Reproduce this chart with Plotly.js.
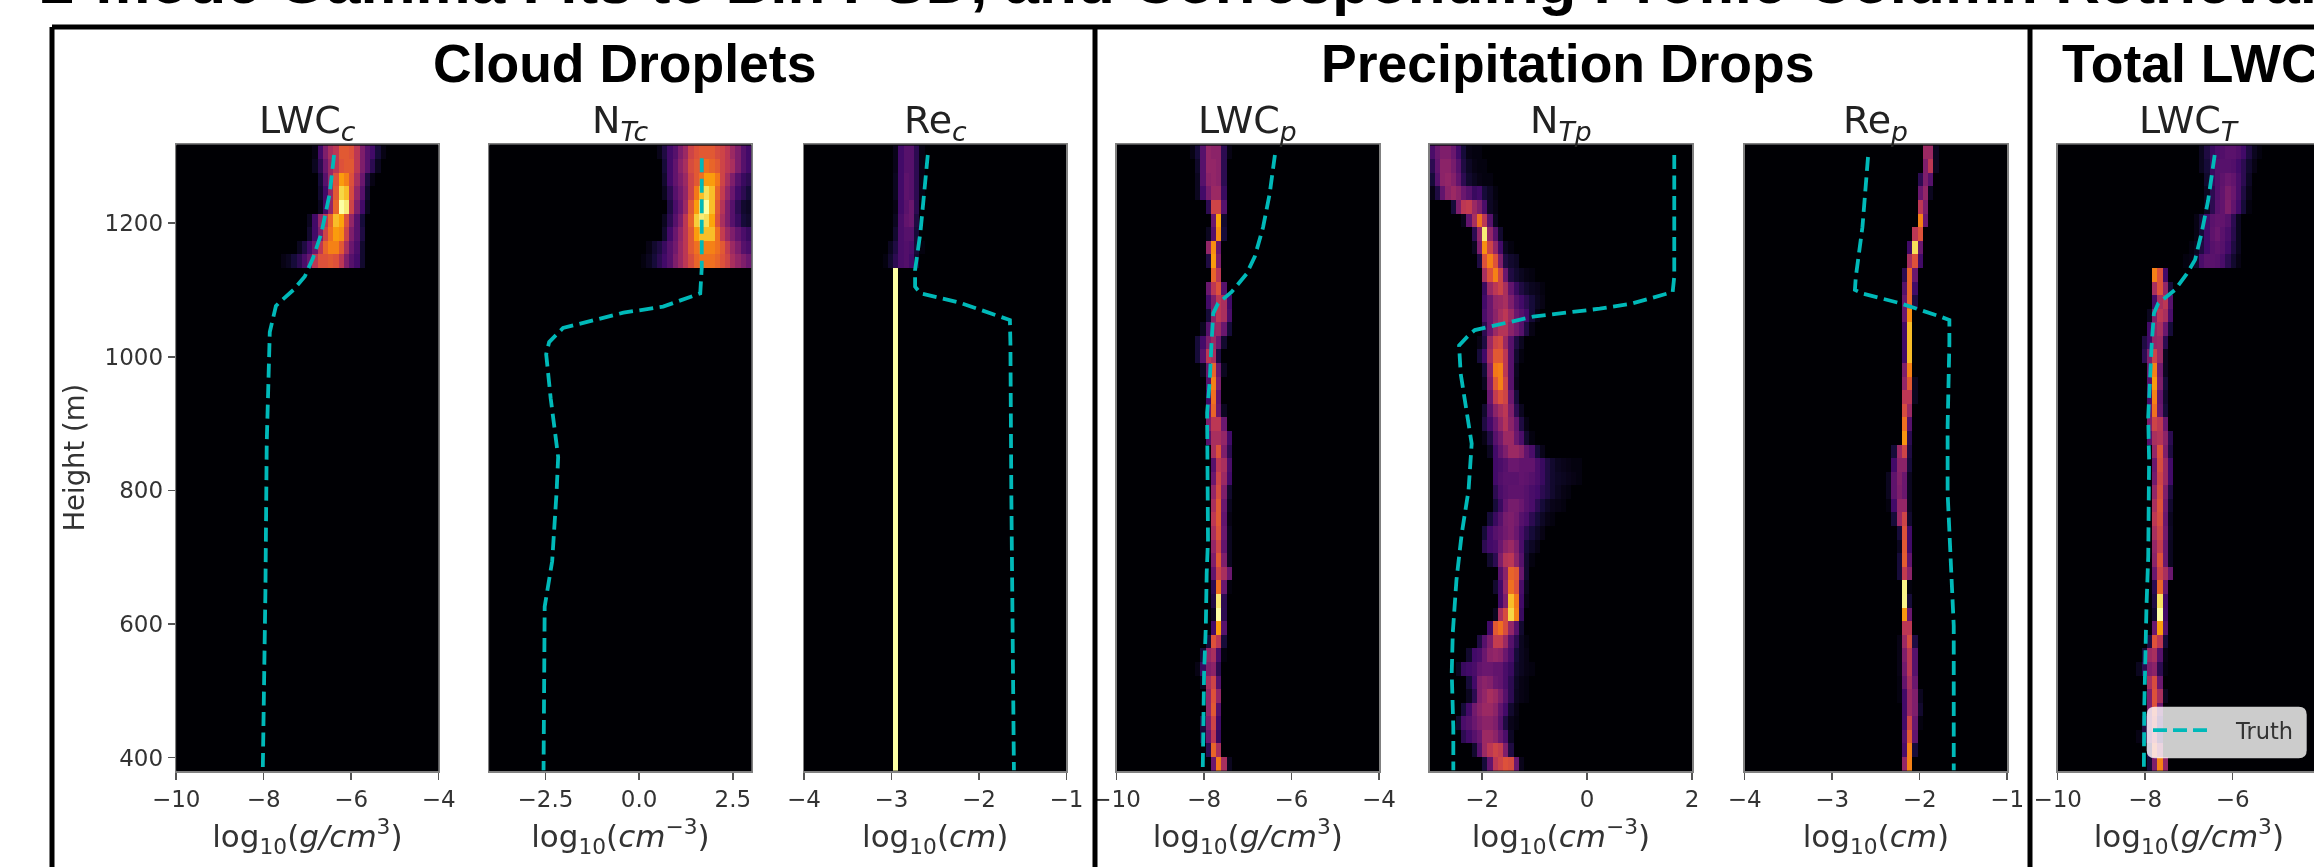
<!DOCTYPE html>
<html><head><meta charset="utf-8">
<script src="https://cdn.plot.ly/plotly-3.0.1.min.js"></script>
<style>html,body{margin:0;padding:0;background:#fff;overflow:hidden;width:2314px;height:867px}#plot{filter:blur(0.6px)}</style>
</head><body><div id="plot"></div>
<script>
// ---------- values ----------
const chartTitle = "2-mode Gamma Fits to Bin PSD, and Corresponding Profile-Column Retrieval";
const groupTitles = ["Cloud Droplets", "Precipitation Drops", "Total LWC"];
const panelTitles = ["LWC<sub><i>c</i></sub>", "N<sub><i>Tc</i></sub>", "Re<sub><i>c</i></sub>", "LWC<sub><i>p</i></sub>", "N<sub><i>Tp</i></sub>", "Re<sub><i>p</i></sub>", "LWC<sub><i>T</i></sub>"];
const xLabelLwc = "log<sub>10</sub>(<i>g/cm</i><sup>3</sup>)";
const xLabelNum = "log<sub>10</sub>(<i>cm</i><sup>−3</sup>)";
const xLabelRe = "log<sub>10</sub>(<i>cm</i>)";
const heightTicks = [400, 600, 800, 1000, 1200];
const lwcTicks = [-10, -8, -6, -4];
const lwcTickText = ["−10", "−8", "−6", "−4"];
const numCTicks = [-2.5, 0, 2.5];
const numCTickText = ["−2.5", "0.0", "2.5"];
const numPTicks = [-2, 0, 2];
const numPTickText = ["−2", "0", "2"];
const reTicks = [-4, -3, -2, -1];
const reTickText = ["−4", "−3", "−2", "−1"];

// Heat-map rows, top to bottom. Each row: [first column, level, level, ...]; levels 0..1 of the colour map.
const heatLwcC = [
 [26,.03,.2,.35,.45,.5,.62,.62,.6,.5,.35,.25,.2,.1,.03],
 [26,.05,.15,.3,.42,.5,.6,.62,.62,.5,.35,.25,.15,.05],
 [27,.1,.25,.42,.6,.78,.72,.6,.45,.3,.12,.03],
 [27,.08,.2,.4,.62,.9,.85,.58,.4,.25,.08],
 [27,.05,.2,.4,.65,1,.95,.55,.35,.2,.05],
 [25,.05,.2,.4,.5,.65,.85,.8,.6,.4,.25,.1],
 [25,.08,.2,.35,.55,.68,.78,.75,.55,.35,.25,.12],
 [23,.05,.12,.2,.3,.5,.65,.72,.72,.62,.45,.3,.22,.08],
 [20,.03,.05,.1,.15,.22,.3,.5,.6,.6,.62,.6,.5,.35,.25,.2,.08]
];
const heatNumC = [
 [32,.04,.12,.2,.25,.35,.42,.55,.6,.62,.62,.62,.58,.55,.5,.42,.35,.25,.2],
 [33,.1,.2,.28,.38,.45,.58,.62,.62,.68,.65,.62,.55,.5,.45,.35,.25,.2],
 [33,.08,.2,.28,.35,.42,.55,.62,.68,.78,.78,.7,.55,.45,.35,.25,.18,.15],
 [33,.05,.15,.25,.32,.4,.55,.7,.85,.92,.85,.65,.52,.4,.3,.2,.15,.1],
 [34,.12,.22,.3,.42,.62,.78,.95,1,.85,.62,.48,.35,.25,.15,.08,.06],
 [33,.05,.15,.25,.35,.5,.65,.88,.95,.92,.8,.6,.45,.35,.25,.18,.1,.08],
 [33,.08,.2,.3,.4,.5,.62,.78,.85,.85,.85,.68,.52,.42,.35,.28,.22,.18],
 [30,.03,.08,.12,.18,.25,.32,.42,.5,.62,.68,.72,.72,.72,.68,.62,.52,.42,.35,.25,.22],
 [29,.02,.05,.1,.15,.2,.25,.35,.42,.5,.58,.65,.68,.68,.68,.65,.6,.55,.45,.4,.35,.3]
];
const heatReC = [
 [17,.04,.2,.25,.25,.15,.03],
 [17,.04,.2,.25,.25,.15,.03],
 [17,.05,.2,.27,.25,.15,.03],
 [17,.05,.2,.27,.25,.15,.03],
 [17,.03,.2,.26,.3,.15],
 [17,.05,.22,.28,.3,.12],
 [17,.08,.22,.25,.25,.1],
 [16,.05,.12,.22,.24,.22,.1,.02],
 [15,.02,.08,.15,.22,.24,.2,.08],
 [17,1],[17,1],[17,1],[17,1],[17,1],[17,1],[17,1],[17,1],[17,1],[17,1],[17,1],[17,1],
 [17,1],[17,1],[17,1],[17,1],[17,1],[17,1],[17,1],[17,1],[17,1],[17,1],[17,1],[17,1],
 [17,1],[17,1],[17,1],[17,1],[17,1],[17,1],[17,1],[17,1],[17,1],[17,1],[17,1],[17,1],[17,1]
];
const heatLwcP = [
 [14,.03,.1,.25,.4,.38,.38,.15,.03],
 [15,.07,.25,.4,.4,.38,.15],
 [15,.05,.25,.38,.4,.38,.15],
 [15,.05,.2,.33,.42,.42,.18],
 [17,.15,.55,.55,.25],
 [18,.3,.8,.08],
 [17,.05,.25,.75,.1],
 [17,.4,.75,.3],
 [17,.12,.78,.35],
 [18,.65,.5],
 [17,.3,.5,.6,.25],
 [17,.2,.35,.5,.45,.2],
 [17,.1,.38,.5,.45,.22],
 [16,.05,.25,.4,.42,.3,.1],
 [15,.1,.2,.35,.42,.3,.08],
 [15,.1,.25,.5,.45,.12],
 [16,.05,.3,.65,.3,.05],
 [17,.25,.72,.35],
 [17,.2,.68,.28],
 [17,.3,.65,.3,.05],
 [17,.35,.5,.5,.3],
 [17,.25,.45,.45,.4,.2],
 [18,.45,.6,.35,.15],
 [18,.25,.5,.45,.22],
 [18,.3,.55,.42,.2],
 [18,.4,.58,.35,.08],
 [18,.45,.62,.3,.05],
 [18,.5,.62,.28,.03],
 [18,.45,.6,.3,.05],
 [18,.4,.55,.28,.05],
 [18,.35,.62,.35,.05],
 [18,.28,.55,.45,.3],
 [18,.15,.68,.3,.02],
 [18,.12,.95,.15],
 [18,.05,1,.15],
 [18,.2,.78,.25],
 [17,.1,.6,.5,.1],
 [16,.1,.4,.45,.22,.02],
 [15,.03,.18,.35,.38,.15],
 [16,.05,.45,.55,.25],
 [17,.4,.6,.4],
 [17,.4,.62,.25],
 [16,.12,.35,.55,.2],
 [16,.1,.3,.5,.18],
 [17,.15,.65,.45],
 [18,.3,.7,.45,.05]
];
const heatNumP = [
 [0,.22,.3,.35,.35,.3,.2,.1,.03,.02,.02],
 [0,.15,.28,.38,.38,.33,.25,.12,.06,.03,.02,.02],
 [0,.1,.25,.38,.4,.36,.28,.15,.08,.05,.03,.02,.02],
 [0,.03,.12,.28,.38,.42,.38,.3,.25,.18,.2,.1,.06,.02],
 [4,.1,.35,.5,.52,.42,.35,.22,.06,.03],
 [6,.04,.28,.45,.68,.5,.25,.05],
 [8,.15,.4,.95,.4,.25,.08],
 [8,.05,.35,.75,.55,.4,.2,.05,.02],
 [9,.12,.6,.72,.6,.35,.12,.08,.06],
 [10,.45,.6,.72,.55,.3,.12,.08,.05,.03,.02],
 [10,.18,.42,.5,.55,.45,.28,.18,.12,.08,.05,.04,.02],
 [10,.2,.3,.4,.42,.45,.35,.25,.2,.15,.1,.05,.03],
 [10,.22,.3,.38,.45,.5,.42,.3,.25,.2,.1,.03],
 [10,.15,.3,.42,.48,.48,.38,.32,.25,.12,.03],
 [9,.03,.12,.42,.55,.58,.42,.25,.12,.05],
 [9,.1,.2,.45,.62,.62,.5,.25,.08,.02],
 [10,.1,.38,.7,.72,.5,.25,.05],
 [10,.05,.35,.62,.72,.55,.25,.04],
 [11,.3,.52,.6,.55,.3,.1],
 [10,.08,.25,.38,.45,.5,.35,.15,.05],
 [10,.12,.2,.3,.4,.48,.38,.28,.12,.03],
 [10,.03,.12,.25,.32,.42,.42,.3,.22,.08,.02],
 [11,.05,.2,.28,.35,.42,.42,.38,.28,.22,.1,.04],
 [12,.2,.22,.25,.3,.3,.28,.28,.28,.22,.18,.12,.08,.05,.04,.03,.02,.02],
 [12,.2,.24,.26,.26,.26,.28,.27,.25,.22,.18,.12,.08,.06,.05,.04,.03,.02],
 [12,.15,.22,.25,.27,.27,.27,.25,.22,.2,.15,.12,.08,.05,.03,.02],
 [12,.1,.18,.28,.33,.33,.3,.25,.22,.15,.1,.06,.04,.03,.02],
 [11,.1,.18,.25,.33,.35,.32,.25,.22,.15,.1,.06,.03,.02],
 [10,.1,.2,.25,.28,.32,.35,.3,.22,.15,.1,.06,.03],
 [10,.15,.2,.22,.3,.38,.42,.35,.22,.1,.06,.03],
 [11,.08,.15,.35,.48,.5,.38,.25,.08,.02],
 [13,.25,.38,.65,.62,.3,.08],
 [12,.08,.2,.4,.68,.6,.22,.05],
 [13,.2,.35,.85,.7,.2,.03],
 [12,.05,.45,.58,.9,.72,.18],
 [11,.2,.62,.68,.58,.4,.25,.08],
 [9,.12,.25,.35,.52,.52,.42,.25,.15,.05,.02],
 [7,.08,.2,.22,.3,.38,.4,.38,.3,.22,.1,.05,.03],
 [5,.05,.18,.2,.22,.28,.3,.3,.28,.28,.22,.18,.08,.05,.03,.02],
 [7,.1,.2,.35,.38,.36,.3,.28,.22,.15,.06,.03,.02],
 [7,.05,.15,.35,.4,.45,.42,.35,.25,.15,.05,.03,.02],
 [6,.1,.2,.32,.38,.42,.42,.38,.28,.2,.08,.03],
 [5,.08,.22,.25,.3,.35,.38,.38,.35,.25,.12,.04,.02],
 [6,.15,.2,.25,.3,.42,.42,.38,.3,.22,.06],
 [8,.08,.25,.42,.5,.55,.52,.35,.12],
 [10,.1,.28,.5,.55,.6,.58,.3,.04]
];
const heatReP = [
 [34,.42,.42,.05],
 [34,.35,.5,.05],
 [33,.15,.35,.25],
 [33,.3,.4,.05],
 [33,.5,.35],
 [33,.72,.3],
 [32,.5,.6],
 [31,.2,.92,.3],
 [31,.45,.6,.2],
 [30,.15,.65,.3],
 [30,.25,.65,.2],
 [30,.3,.65,.12],
 [30,.3,.75],
 [30,.2,.85],
 [30,.2,.85],
 [30,.2,.85],
 [30,.35,.72],
 [30,.4,.62,.05],
 [30,.5,.5,.05],
 [30,.58,.42],
 [30,.68,.25],
 [30,.76,.15],
 [28,.1,.42,.55,.12],
 [28,.2,.38,.38,.1],
 [27,.05,.27,.36,.3,.05],
 [27,.05,.27,.35,.3,.05],
 [27,.02,.2,.4,.4,.05],
 [28,.1,.42,.55,.08],
 [29,.1,.6,.2],
 [29,.05,.62,.2],
 [29,.1,.63,.28],
 [29,.1,.52,.38],
 [30,.97,.02],
 [30,.97,.1],
 [30,.77,.3],
 [30,.5,.5],
 [29,.03,.42,.58,.12],
 [29,.03,.35,.5,.25],
 [29,.03,.32,.5,.25],
 [29,.02,.28,.45,.3],
 [29,.02,.2,.42,.35,.05],
 [30,.2,.42,.35,.08],
 [30,.2,.55,.3,.02],
 [30,.25,.62,.28],
 [30,.22,.72,.1],
 [30,.4,.72]
];
const heatLwcT = [
 [27,.05,.12,.18,.22,.24,.26,.26,.24,.2,.12,.05,.02],
 [27,.05,.1,.18,.24,.25,.25,.24,.2,.15,.08,.03],
 [28,.08,.18,.24,.27,.3,.28,.22,.15,.06],
 [28,.05,.15,.24,.28,.34,.3,.22,.12,.04],
 [28,.05,.15,.25,.28,.35,.28,.2,.1,.02],
 [26,.03,.1,.2,.26,.28,.28,.25,.15,.05],
 [26,.03,.1,.2,.27,.3,.26,.22,.14,.05],
 [25,.02,.05,.12,.2,.25,.27,.25,.2,.12,.05],
 [24,.02,.03,.08,.22,.26,.26,.25,.22,.15,.08,.03],
 [18,.72,.6,.2],
 [18,.45,.6,.4,.1],
 [18,.2,.45,.5,.25],
 [17,.05,.35,.5,.45,.22],
 [17,.2,.4,.45,.3,.1],
 [16,.12,.2,.4,.42,.15],
 [16,.15,.35,.55,.42,.05],
 [17,.3,.72,.32,.05],
 [17,.25,.78,.35,.1],
 [17,.22,.72,.28,.08],
 [17,.3,.68,.3,.1],
 [17,.35,.55,.5,.3],
 [17,.25,.45,.48,.38,.15],
 [18,.4,.6,.35,.12],
 [18,.3,.58,.42,.2],
 [18,.32,.55,.42,.2],
 [18,.4,.58,.35,.12],
 [18,.45,.6,.32,.08],
 [18,.5,.58,.3,.05],
 [18,.45,.55,.32,.06],
 [18,.4,.52,.3,.05],
 [18,.38,.6,.3,.05],
 [18,.3,.55,.45,.3],
 [18,.15,.65,.3],
 [18,.12,.93,.2],
 [18,.08,1,.2],
 [18,.3,.78,.25],
 [17,.12,.6,.5,.1],
 [16,.1,.42,.45,.25,.03],
 [15,.05,.15,.35,.38,.15,.02],
 [17,.45,.58,.3],
 [17,.35,.6,.45,.05],
 [17,.35,.6,.3],
 [16,.12,.35,.55,.2],
 [15,.03,.12,.3,.5,.18],
 [17,.15,.62,.42],
 [17,.1,.35,.72,.4]
];

// "Truth" profiles: [log10 value] against height (m).
const truthLwcCx = [-6.39,-6.49,-6.68,-6.87,-7.06,-7.32,-7.63,-7.72,-7.86,-7.93,-7.96,-8.0,-8.02];
const truthLwcCh = [1302,1244,1185,1148,1120,1100,1082,1076,1037,871,650,400,381];
const truthNumCx = [1.67,1.67,1.63,0.64,-0.42,-2.03,-2.4,-2.48,-2.36,-2.16,-2.2,-2.32,-2.52,-2.55];
const truthNumCh = [1297,1133,1095,1075,1066,1043,1022,1004,938,850,800,694,626,381];
const truthReCx = [-2.585,-2.67,-2.73,-2.73,-2.67,-2.22,-1.646,-1.64,-1.63,-1.6];
const truthReCh = [1302,1185,1130,1105,1095,1081,1055,1020,800,381];
const truthLwcPx = [-6.38,-6.5,-6.65,-6.84,-7.03,-7.37,-7.68,-7.79,-7.83,-7.87,-7.93,-7.93,-7.91,-7.94,-7.96,-8.0,-8.02,-8.03];
const truthLwcPh = [1302,1244,1194,1150,1124,1097,1080,1065,1020,965,916,860,726,676,596,526,445,381];
const truthNumPx = [1.66,1.66,1.63,0.87,0.24,-1.03,-2.14,-2.26,-2.44,-2.41,-2.2,-2.26,-2.39,-2.49,-2.56,-2.58,-2.55,-2.55];
const truthNumPh = [1302,1120,1097,1080,1072,1060,1040,1032,1017,975,870,800,735,666,587,527,445,381];
const truthRePx = [-2.59,-2.654,-2.73,-2.74,-2.66,-2.22,-1.76,-1.66,-1.66,-1.68,-1.68,-1.64,-1.61,-1.61];
const truthRePh = [1299,1194,1119,1100,1095,1080,1060,1055,1020,896,796,696,597,381];
const truthLwcTx = [-6.41,-6.56,-6.71,-6.86,-7.05,-7.32,-7.7,-7.8,-7.85,-7.89,-7.93,-7.91,-7.93,-7.97,-8.0,-8.02,-8.03];
const truthLwcTh = [1302,1234,1185,1145,1124,1100,1080,1065,1020,965,910,845,701,626,550,476,381];

// ---------- styling and layout ----------
const W = 2330, H = 867;
const panelLeft = [176.2, 489.2, 804, 1116.6, 1429.7, 1744.7, 2057.7];
const panelWidth = 262.4, panelTop = 144.3, panelBottom = 771;
const heightRange = [380, 1318];
const rowTop = 1316, rowStep = 20.35, binCount = 50;
const px = v => v / W, py = v => 1 - v / H;
const inferno = [[0,"#000004"],[.1,"#160b39"],[.2,"#420a68"],[.3,"#6a176e"],[.4,"#932667"],[.5,"#bc3754"],[.6,"#dd513a"],[.7,"#f37819"],[.8,"#fca50a"],[.9,"#f6d746"],[1,"#fcffa4"]];
const teal = "#00b9b9";

const panels = [
 {heat: heatLwcC, tx: truthLwcCx, th: truthLwcCh, range: [-10,-4], tv: lwcTicks, tt: lwcTickText, label: xLabelLwc},
 {heat: heatNumC, tx: truthNumCx, th: truthNumCh, range: [-4,3], tv: numCTicks, tt: numCTickText, label: xLabelNum},
 {heat: heatReC, tx: truthReCx, th: truthReCh, range: [-4,-1], tv: reTicks, tt: reTickText, label: xLabelRe},
 {heat: heatLwcP, tx: truthLwcPx, th: truthLwcPh, range: [-10,-4], tv: lwcTicks, tt: lwcTickText, label: xLabelLwc},
 {heat: heatNumP, tx: truthNumPx, th: truthNumPh, range: [-3,2], tv: numPTicks, tt: numPTickText, label: xLabelNum},
 {heat: heatReP, tx: truthRePx, th: truthRePh, range: [-4,-1], tv: reTicks, tt: reTickText, label: xLabelRe},
 {heat: heatLwcT, tx: truthLwcTx, th: truthLwcTh, range: [-10,-4], tv: lwcTicks, tt: lwcTickText, label: xLabelLwc}
];

const rowCount = 46;
const rowCenters = [];
for (let r = rowCount - 1; r >= 0; r--) rowCenters.push(rowTop - rowStep * (r + .5));

const traces = [], layout = {
  width: W, height: H, margin: {l:0, r:0, t:0, b:0}, paper_bgcolor: "#fff", plot_bgcolor: "#000004",
  showlegend: true, font: {family: "DejaVu Sans", color: "#333"},
  legend: {x: px(2148), y: py(709), xanchor: "left", yanchor: "top", bgcolor: "rgba(0,0,0,0)", borderwidth: 0,
           font: {family: "DejaVu Sans", size: 22.5, color: "#333"}, itemwidth: 78, tracegroupgap: 0},
  annotations: [], shapes: []
};

panels.forEach((p, i) => {
  const s = i === 0 ? "" : String(i + 1);
  const dx = (p.range[1] - p.range[0]) / binCount;
  const xc = [];
  for (let c = 0; c < binCount; c++) xc.push(p.range[0] + dx * (c + .5));
  const z = rowCenters.map(() => new Array(binCount).fill(0));
  p.heat.forEach((row, r) => {
    const zi = rowCount - 1 - r;
    row.slice(1).forEach((v, k) => { z[zi][row[0] + k] = v; });
  });
  traces.push({type: "heatmap", x: xc, y: rowCenters, z, zmin: 0, zmax: 1, colorscale: inferno, showscale: false,
               zsmooth: false, xaxis: "x" + s, yaxis: "y" + s, hoverinfo: "skip"});
  traces.push({type: "scatter", mode: "lines", x: p.tx, y: p.th, name: "Truth", showlegend: false,
               line: {color: teal, width: 3.8, dash: "14px,6.5px"}, xaxis: "x" + s, yaxis: "y" + s});
  layout["xaxis" + s] = {
    domain: [px(panelLeft[i]), px(panelLeft[i] + panelWidth)], range: p.range, anchor: "y" + s,
    tickmode: "array", tickvals: p.tv, ticktext: p.tt, ticks: "outside", ticklen: 7, tickwidth: 1.5, tickcolor: "#555",
    tickfont: {family: "DejaVu Sans", size: 23, color: "#333"}, showgrid: false, zeroline: false,
    showline: true, linecolor: "#808080", linewidth: 1.5, mirror: true,
    title: {text: p.label, font: {family: "DejaVu Sans", size: 31, color: "#333"}, standoff: 14}, automargin: false
  };
  layout["yaxis" + s] = {
    domain: [py(panelBottom), py(panelTop)], range: heightRange, anchor: "x" + s, showgrid: false, zeroline: false,
    showline: true, linecolor: "#808080", linewidth: 1.5, mirror: true, automargin: false,
    tickmode: "array", tickvals: i === 0 ? heightTicks : [], ticks: i === 0 ? "outside" : "", ticklen: 7, tickwidth: 1.5, tickcolor: "#555",
    tickfont: {family: "DejaVu Sans", size: 23, color: "#333"}, showticklabels: i === 0,
    title: i === 0 ? {text: "Height (m)", font: {family: "DejaVu Sans", size: 27.5, color: "#333"}, standoff: 12} : undefined
  };
  layout.annotations.push({xref: "paper", yref: "paper", x: px(panelLeft[i] + panelWidth / 2), y: py(122), text: panelTitles[i],
    showarrow: false, xanchor: "center", yanchor: "middle", font: {family: "DejaVu Sans", size: 38, color: "#222"}});
});

// legend entry: sample of three dashes
traces.push({type: "scatter", mode: "lines", x: [null], y: [null], name: "Truth", showlegend: true,
  line: {color: teal, width: 3.8, dash: "14px,6px,14px,6px,14px,60px"}, xaxis: "x7", yaxis: "y7"});

const boldFont = s => ({family: "Liberation Sans", size: s, color: "#000", weight: 700});
layout.annotations.push(
  {xref:"paper", yref:"paper", x: px(38), y: py(18), text: "<b>" + chartTitle + "</b>", showarrow:false, xanchor:"left", yanchor:"bottom", font: boldFont(62)},
  {xref:"paper", yref:"paper", x: px(624), y: py(64), text: "<b>" + groupTitles[0] + "</b>", showarrow:false, xanchor:"center", yanchor:"middle", font: boldFont(53.5)},
  {xref:"paper", yref:"paper", x: px(1567), y: py(64), text: "<b>" + groupTitles[1] + "</b>", showarrow:false, xanchor:"center", yanchor:"middle", font: boldFont(53.5)},
  {xref:"paper", yref:"paper", x: px(2060), y: py(64), text: "<b>" + groupTitles[2] + "</b>", showarrow:false, xanchor:"left", yanchor:"middle", font: boldFont(53.5)}
);

const frame = (x0, y0, x1, y1) => ({type: "line", xref: "paper", yref: "paper", x0: px(x0), y0: py(y0), x1: px(x1), y1: py(y1), line: {color: "#000", width: 5}});
layout.shapes.push(frame(52, 27, W, 27), frame(52, 27, 52, H), frame(1095, 27, 1095, H), frame(2030, 27, 2030, H));
// legend box
const bx0 = 2146.7, bx1 = 2306.7, by0 = 706.7, by1 = 758.3, rr = 8;
layout.shapes.push({type: "path", xref: "paper", yref: "paper", layer: "above", line: {width: 0}, fillcolor: "rgba(255,255,255,0.8)",
  path: `M ${px(bx0+rr)} ${py(by0)} L ${px(bx1-rr)} ${py(by0)} Q ${px(bx1)} ${py(by0)} ${px(bx1)} ${py(by0+rr)} L ${px(bx1)} ${py(by1-rr)} Q ${px(bx1)} ${py(by1)} ${px(bx1-rr)} ${py(by1)} L ${px(bx0+rr)} ${py(by1)} Q ${px(bx0)} ${py(by1)} ${px(bx0)} ${py(by1-rr)} L ${px(bx0)} ${py(by0+rr)} Q ${px(bx0)} ${py(by0)} ${px(bx0+rr)} ${py(by0)} Z`});

Plotly.newPlot("plot", traces, layout, {displayModeBar: false, staticPlot: true});
</script></body></html>
